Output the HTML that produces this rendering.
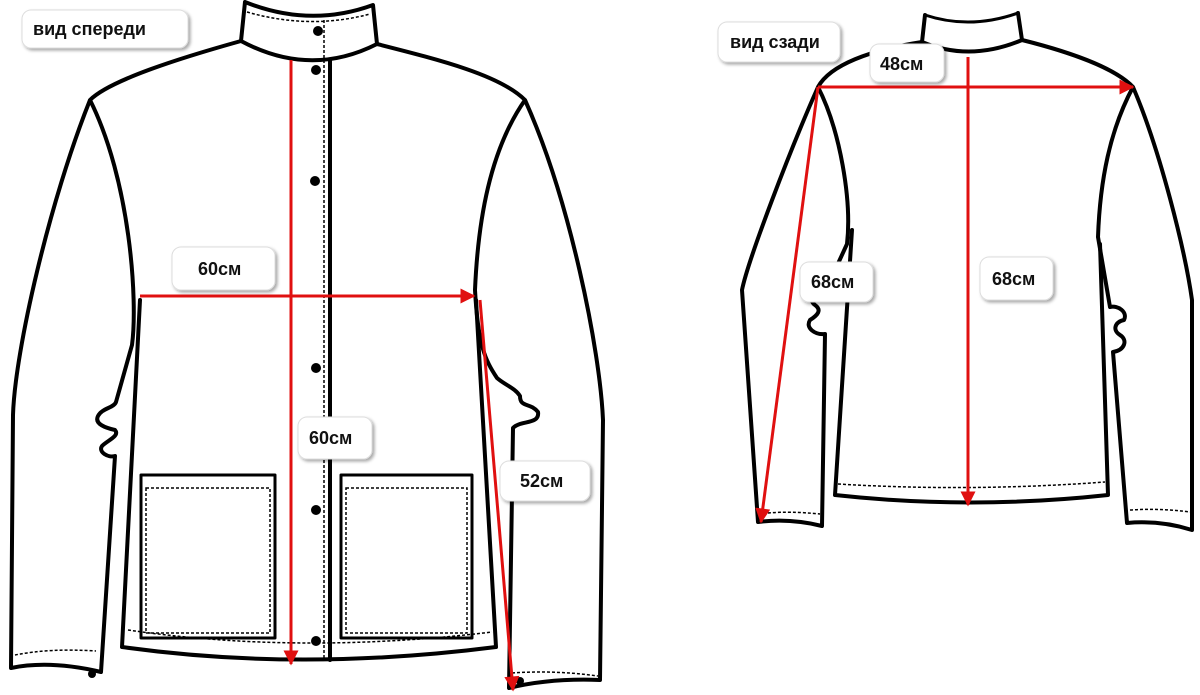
<!DOCTYPE html>
<html><head><meta charset="utf-8"><style>
html,body{margin:0;padding:0;background:#fff;}
svg{display:block}
.lbl{font-family:"Liberation Sans",sans-serif;font-weight:bold;font-size:18px;fill:#111}
</style></head><body>
<svg width="1200" height="695" viewBox="0 0 1200 695" xmlns="http://www.w3.org/2000/svg">
<defs>
<filter id="sh" x="-20%" y="-20%" width="150%" height="160%"><feDropShadow dx="2" dy="2" stdDeviation="1.5" flood-color="#000" flood-opacity="0.35"/></filter>
<marker id="ar" viewBox="0 0 10 10" refX="9" refY="5" markerWidth="6" markerHeight="5" orient="auto" markerUnits="strokeWidth"><path d="M0,0 L10,5 L0,10 z" fill="#e01010"/></marker>
</defs>
<g fill="none" stroke="#000" stroke-width="4" stroke-linejoin="round" stroke-linecap="round">
<!-- FRONT -->
<path d="M245,2 L241,41 M245,2 Q310,28 373,5 L377,44 M241,41 Q310,78 377,44"/>
<path d="M241,41 C180,58 110,80 90,100 C50,200 15,350 13,415 L11,668 Q50,660 101,672 L115,456 C108,458 98,452 102,446 C108,440 120,436 115,430 C106,428 94,424 98,416 C102,408 114,408 116,402 L132,345 C138,300 130,180 90,100"/>
<path d="M377,44 C440,60 500,75 525,100 C570,200 600,350 603,420 L600,680 Q550,678 509,688 L513,428 C520,420 540,425 538,412 C530,402 520,408 520,396 C515,388 505,385 497,378 C485,360 478,345 475,290 C478,220 490,150 525,100"/>
<path d="M140,300 L122,647 Q300,672 496,647 L476,300"/>
<path d="M330,60 L330,660" stroke-width="4"/>
<rect x="141" y="475" width="134" height="163" stroke-width="3"/>
<rect x="341" y="475" width="131" height="163" stroke-width="3"/>
<!-- BACK -->
<path d="M925,15 L922,42 M1018,13 L1022,40 M922,42 Q970,62 1022,40"/>
<path d="M925,15 Q970,30 1018,13" stroke-width="3"/>
<path d="M922,42 C870,50 830,65 818,87 C790,150 748,260 742,290 L758,522 Q790,518 822,526 L825,334 C815,335 805,328 810,320 C818,315 822,310 815,305 C808,300 812,290 825,292 L847,244 C852,200 840,130 818,87"/>
<path d="M1022,40 C1070,52 1115,68 1133,87 C1160,150 1185,250 1192,300 L1192,530 Q1160,520 1127,523 L1113,352 C1125,350 1128,340 1120,335 C1112,330 1115,322 1124,320 C1128,312 1118,305 1110,307 L1098,237 C1100,180 1110,130 1133,87"/>
<path d="M852,230 L835,495 Q970,510 1108,495 L1100,244"/>
</g>
<g fill="none" stroke="#000" stroke-width="1.5" stroke-dasharray="3,2">
<path d="M324,20 L324,660"/>
<path d="M128,630 Q300,655 492,632"/>
<rect x="146" y="488" width="124" height="145"/>
<rect x="346" y="488" width="121" height="145"/>
<path d="M15,655 Q50,648 96,651"/>
<path d="M512,673 Q555,670 598,676"/>
<path d="M838,484 Q970,492 1105,482"/>
<path d="M768,513 Q790,511 820,514"/>
<path d="M1130,510 Q1160,508 1190,512"/>
<path d="M247,12 Q310,30 370,14"/>
</g>
<g fill="#000">
<circle cx="318" cy="31" r="5"/><circle cx="316" cy="70" r="5"/><circle cx="315" cy="181" r="5"/>
<circle cx="316" cy="368" r="5"/><circle cx="316" cy="510" r="5"/><circle cx="316" cy="641" r="5"/>
<circle cx="92" cy="674" r="4"/><circle cx="520" cy="681" r="4"/>
</g>
<g stroke="#e01010" stroke-width="3" fill="none">
<path d="M291,60 L291,664" marker-end="url(#ar)"/>
<path d="M140,296 L474,296" marker-end="url(#ar)"/>
<path d="M480,300 L513,690" marker-end="url(#ar)"/>
<path d="M818,87 L1133,87" marker-end="url(#ar)"/>
<path d="M968,57 L968,505" marker-end="url(#ar)"/>
<path d="M818,87 L761,522" marker-end="url(#ar)"/>
</g>
<g fill="#fff" stroke="#ddd" stroke-width="1" filter="url(#sh)">
<rect x="22" y="10" width="166" height="38" rx="9"/>
<rect x="172" y="247" width="103" height="43" rx="9"/>
<rect x="298" y="417" width="74" height="42" rx="9"/>
<rect x="500" y="461" width="90" height="40" rx="9"/>
<rect x="718" y="22" width="122" height="40" rx="9"/>
<rect x="870" y="44" width="74" height="38" rx="9"/>
<rect x="800" y="262" width="73" height="40" rx="9"/>
<rect x="980" y="257" width="73" height="43" rx="9"/>
</g>
<g class="lbl">
<text x="33" y="35">вид спереди</text>
<text x="198" y="275">60см</text>
<text x="309" y="444">60см</text>
<text x="520" y="487">52см</text>
<text x="730" y="48">вид сзади</text>
<text x="880" y="70">48см</text>
<text x="811" y="288">68см</text>
<text x="992" y="285">68см</text>
</g>
</svg>
</body></html>
